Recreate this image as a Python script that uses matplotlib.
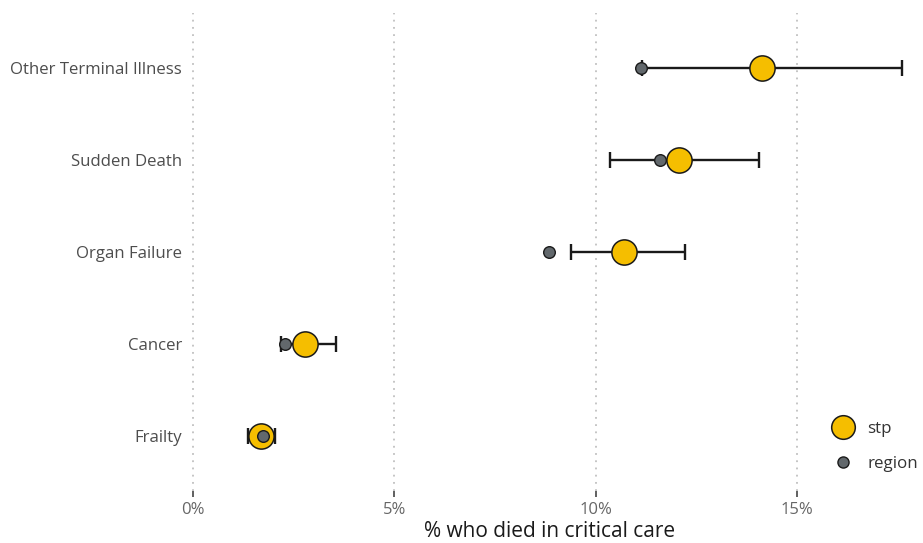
import matplotlib.pyplot as plt
from matplotlib.lines import Line2D

plt.rcParams['font.family'] = ['Open Sans', 'DejaVu Sans']

# data (percent)
categories = ['Frailty', 'Cancer', 'Organ Failure', 'Sudden Death', 'Other Terminal Illness']
stp = [1.69, 2.79, 10.70, 12.06, 14.13]
stp_low = [1.37, 2.19, 9.38, 10.35, 11.14]
stp_high = [2.04, 3.56, 12.21, 14.05, 17.61]
region = [1.74, 2.29, 8.83, 11.59, 11.12]
xticks = [0, 5, 10, 15]

gold = '#F5BE00'
grey = '#62686C'

fig = plt.figure(figsize=(9.23, 5.43), dpi=100)
ax = fig.add_axes([0.2004, 0.0958, 0.7896, 0.8806])

ypos = list(range(len(categories)))
lo = [s - l for s, l in zip(stp, stp_low)]
hi = [h - s for s, h in zip(stp, stp_high)]
ax.errorbar(stp, ypos, xerr=[lo, hi], fmt='none', ecolor='#1a1a1a',
            elinewidth=1.7, capsize=6, capthick=1.7, zorder=2)
ax.scatter(stp, ypos, s=330, color=gold, edgecolor='#1a1a1a', linewidth=1.1, zorder=3)
ax.scatter(region, ypos, s=70, color=grey, edgecolor='#1a1a1a', linewidth=1.0, zorder=4)

ax.set_xlim(-0.2, 17.9)
ax.set_ylim(-0.6, 4.6)
ax.set_yticks(ypos)
ax.set_yticklabels(categories, fontsize=12.1, color='#4d4d4d')
ax.set_xticks(xticks)
ax.set_xticklabels([f'{t}%' for t in xticks], fontsize=12, color='#666666')
ax.tick_params(axis='y', length=0, pad=2)
ax.tick_params(axis='x', length=4, width=1.2, color='#444444', pad=4)
ax.set_xlabel('% who died in critical care', fontsize=15, color='#1a1a1a', labelpad=2)

for t in xticks:
    ax.axvline(t, color='#c0c0c0', linestyle=(0, (1, 3)), linewidth=1.3, zorder=0)
for s in ax.spines.values():
    s.set_visible(False)

handles = [
    Line2D([], [], marker='o', linestyle='none', markersize=17, markerfacecolor=gold,
           markeredgecolor='#1a1a1a', markeredgewidth=1.1, label='stp'),
    Line2D([], [], marker='o', linestyle='none', markersize=8, markerfacecolor=grey,
           markeredgecolor='#1a1a1a', markeredgewidth=1.0, label='region'),
]
leg = fig.legend(handles=handles, loc='upper left', bbox_to_anchor=(0.888, 0.237),
                 frameon=False, fontsize=12.2, labelspacing=1.1, handletextpad=0.4,
                 borderaxespad=0)
for txt in leg.get_texts():
    txt.set_color('#333333')

plt.savefig('out.png', dpi=100)
plt.close()
